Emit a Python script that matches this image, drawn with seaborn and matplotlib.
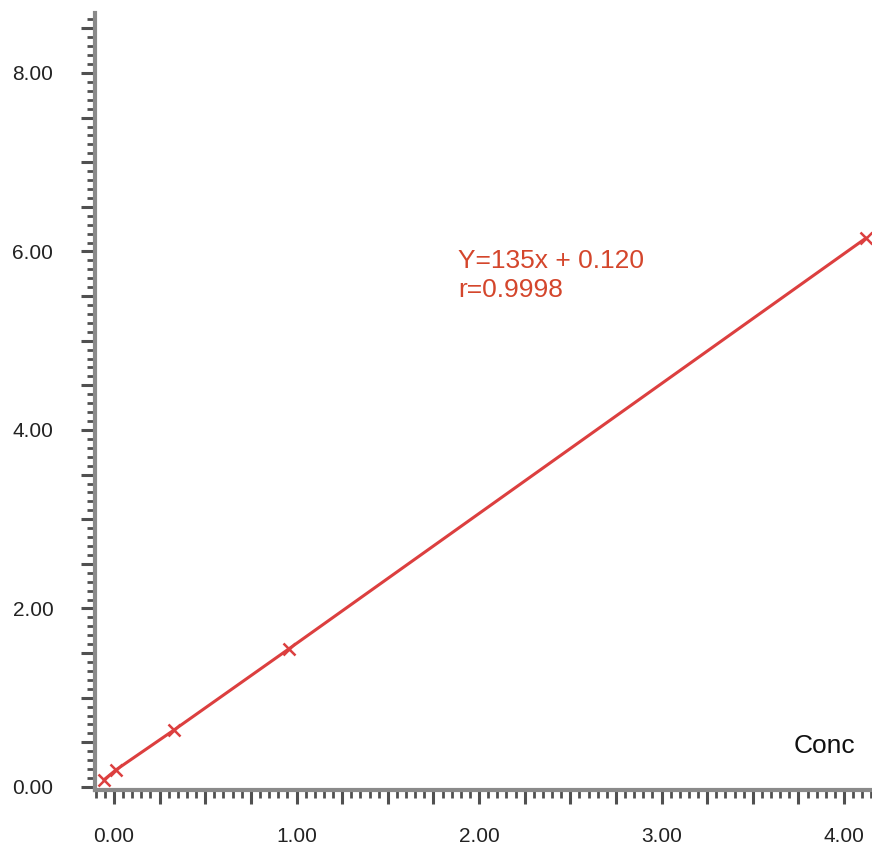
import numpy as np
import matplotlib
matplotlib.use("Agg")
import matplotlib.pyplot as plt
import seaborn as sns
import pandas as pd
from matplotlib.ticker import MultipleLocator, FuncFormatter

# calibration points
conc = [-0.055, 0.01, 0.33, 0.96, 4.12]
response = [0.08, 0.19, 0.64, 1.55, 6.15]
equation_text = "Y=135x + 0.120\nr=0.9998"
x_axis_name = "Conc"

sns.set_style("ticks")
plt.rcParams['font.family'] = ['Liberation Sans', 'DejaVu Sans']

df = pd.DataFrame({"Conc": conc, "Response": response})

fig = plt.figure(figsize=(8.72, 8.48), dpi=100)
ax = fig.add_axes([95 / 872, 58 / 848, 777 / 872, 777 / 848])

line_color = '#dc3f3f'
sns.lineplot(data=df, x="Conc", y="Response", ax=ax, sort=False,
             color=line_color, linewidth=2.2, marker='x', markersize=9,
             markeredgewidth=1.8, markeredgecolor=line_color)

ax.set_xlim(-0.104, 4.153)
ax.set_ylim(-0.034, 8.672)

# long ticks every 0.25 / 0.5, labels only on whole numbers / every 2
ax.xaxis.set_major_locator(MultipleLocator(0.25))
ax.xaxis.set_minor_locator(MultipleLocator(0.05))
ax.yaxis.set_major_locator(MultipleLocator(0.5))
ax.yaxis.set_minor_locator(MultipleLocator(0.1))
ax.xaxis.set_major_formatter(FuncFormatter(
    lambda v, p: f"{v:.2f}" if abs(v - round(v)) < 1e-6 else ""))
ax.yaxis.set_major_formatter(FuncFormatter(
    lambda v, p: f"{v:.2f}" if abs(v / 2 - round(v / 2)) < 1e-6 else ""))

for side in ['top', 'right']:
    ax.spines[side].set_visible(False)
for side in ['left', 'bottom']:
    ax.spines[side].set_color('#8a8a8a')
    ax.spines[side].set_linewidth(3)

ax.tick_params(which='major', length=10, width=2.2, color='#505050',
               labelsize=15, labelcolor='#222222')
ax.tick_params(axis='y', which='major', pad=20)
ax.tick_params(axis='x', which='major', pad=17)
ax.tick_params(which='minor', length=5.5, width=2, color='#505050')

ax.set_xlabel("")
ax.set_ylabel("")

ax.text(1.885, 6.03, equation_text, color='#d4462c', fontsize=19,
        ha='left', va='top', linespacing=1.3)
ax.text(4.06, 0.46, x_axis_name, color='#111111', fontsize=19,
        ha='right', va='center')

fig.savefig("out.png", dpi=100)
